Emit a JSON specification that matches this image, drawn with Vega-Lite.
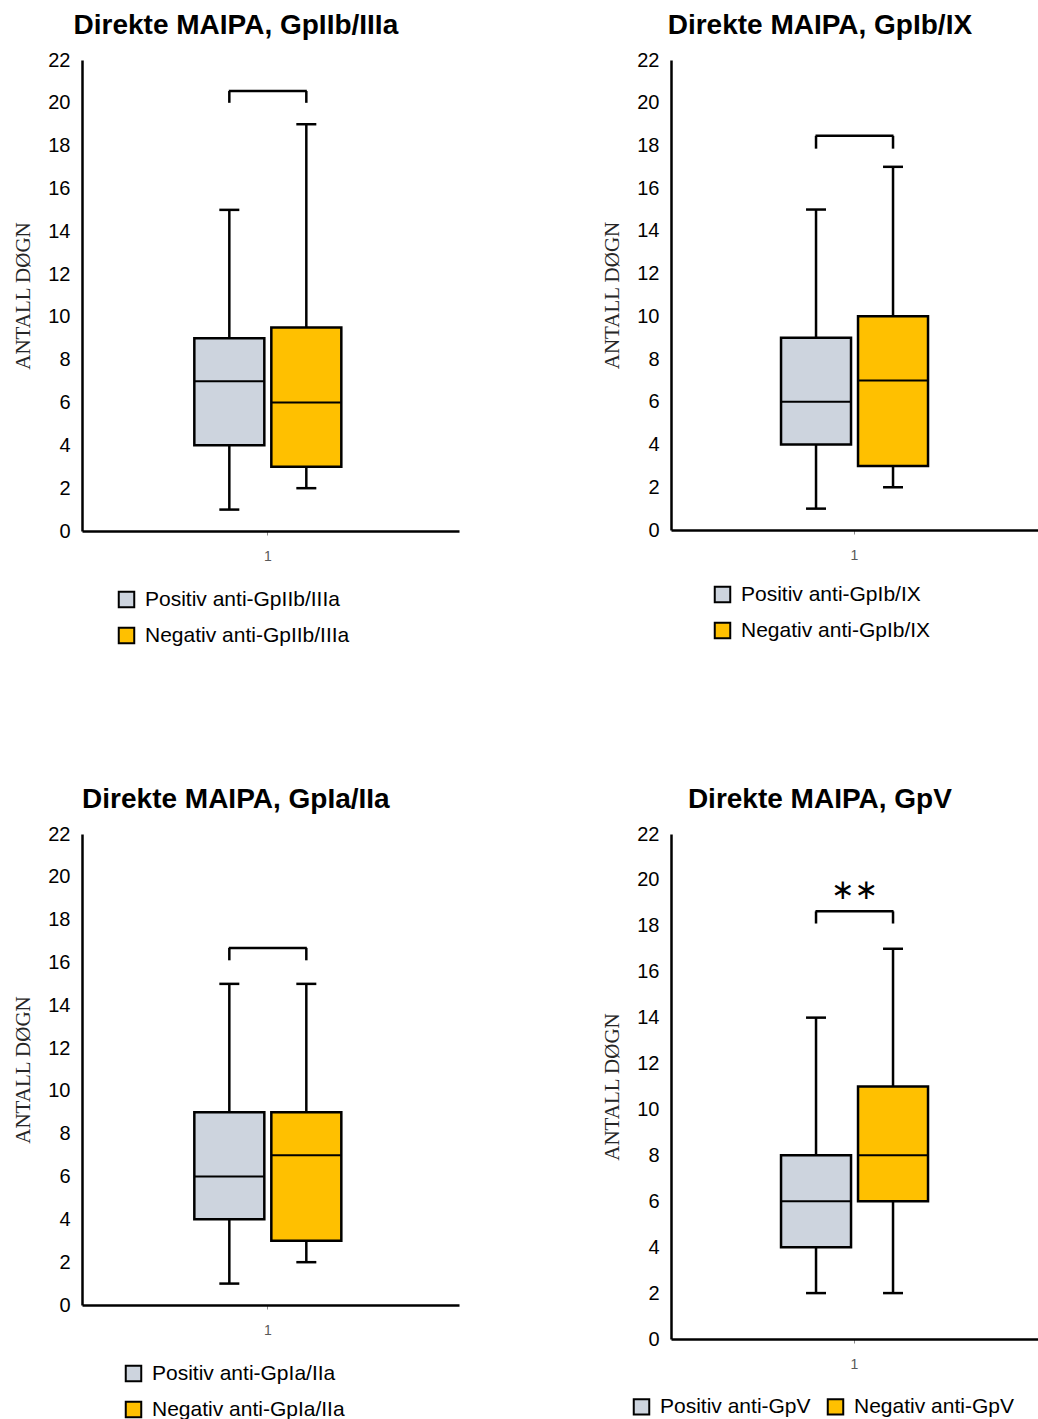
{
  "$schema": "https://vega.github.io/schema/vega-lite/v6.json",
  "background": "white",
  "padding": {"left": 12, "top": 12, "right": 0, "bottom": 0},
  "datasets": {
    "bokser": [
      {"panel": "GpIIb/IIIa", "kategori": "1", "fortegn": "Positiv", "etikett": "Positiv anti-GpIIb/IIIa", "min": 1, "q1": 4, "median": 7, "q3": 9, "max": 15},
      {"panel": "GpIIb/IIIa", "kategori": "1", "fortegn": "Negativ", "etikett": "Negativ anti-GpIIb/IIIa", "min": 2, "q1": 3, "median": 6, "q3": 9.5, "max": 19},
      {"panel": "GpIb/IX", "kategori": "1", "fortegn": "Positiv", "etikett": "Positiv anti-GpIb/IX", "min": 1, "q1": 4, "median": 6, "q3": 9, "max": 15},
      {"panel": "GpIb/IX", "kategori": "1", "fortegn": "Negativ", "etikett": "Negativ anti-GpIb/IX", "min": 2, "q1": 3, "median": 7, "q3": 10, "max": 17},
      {"panel": "GpIa/IIa", "kategori": "1", "fortegn": "Positiv", "etikett": "Positiv anti-GpIa/IIa", "min": 1, "q1": 4, "median": 6, "q3": 9, "max": 15},
      {"panel": "GpIa/IIa", "kategori": "1", "fortegn": "Negativ", "etikett": "Negativ anti-GpIa/IIa", "min": 2, "q1": 3, "median": 7, "q3": 9, "max": 15},
      {"panel": "GpV", "kategori": "1", "fortegn": "Positiv", "etikett": "Positiv anti-GpV", "min": 2, "q1": 4, "median": 6, "q3": 8, "max": 14},
      {"panel": "GpV", "kategori": "1", "fortegn": "Negativ", "etikett": "Negativ anti-GpV", "min": 2, "q1": 6, "median": 8, "q3": 11, "max": 17}
    ],
    "klammer": [
      {"panel": "GpIIb/IIIa", "kategori": "1", "fortegn": "Positiv", "lav": 20.0, "hoy": 20.55},
      {"panel": "GpIIb/IIIa", "kategori": "1", "fortegn": "Negativ", "lav": 20.0, "hoy": 20.55},
      {"panel": "GpIb/IX", "kategori": "1", "fortegn": "Positiv", "lav": 17.85, "hoy": 18.45},
      {"panel": "GpIb/IX", "kategori": "1", "fortegn": "Negativ", "lav": 17.85, "hoy": 18.45},
      {"panel": "GpIa/IIa", "kategori": "1", "fortegn": "Positiv", "lav": 16.1, "hoy": 16.68},
      {"panel": "GpIa/IIa", "kategori": "1", "fortegn": "Negativ", "lav": 16.1, "hoy": 16.68},
      {"panel": "GpV", "kategori": "1", "fortegn": "Positiv", "lav": 18.1, "hoy": 18.63},
      {"panel": "GpV", "kategori": "1", "fortegn": "Negativ", "lav": 18.1, "hoy": 18.63}
    ],
    "stjerner": [
      {"panel": "GpV", "kategori": "1", "y": 19.5, "tekst": "∗∗"}
    ]
  },
  "config": {
    "view": {"stroke": null},
    "font": "Liberation Sans",
    "title": {"fontSize": 28, "font": "Liberation Sans", "fontWeight": "bold", "color": "black", "frame": "bounds", "anchor": "middle", "offset": 10},
    "tick": {"opacity": 1},
    "axisY": {"domainColor": "black", "domainWidth": 2.5, "ticks": false, "grid": false, "labelFontSize": 20, "labelColor": "black", "labelPadding": 12, "titleFont": "Liberation Serif", "titleFontSize": 21, "titleFontWeight": "normal", "titleColor": "#262626", "titlePadding": 14},
    "axisX": {"domainColor": "black", "domainWidth": 2.5, "tickColor": "#8c8c8c", "tickSize": 4, "tickWidth": 1, "labelFontSize": 14, "labelColor": "#595959", "labelPadding": 14, "labelAngle": 0, "grid": false},
    "legend": {"labelFontSize": 21, "labelColor": "black", "labelFont": "Liberation Sans", "labelLimit": 0, "symbolType": "square", "symbolSize": 240, "symbolStrokeColor": "black", "symbolStrokeWidth": 2, "rowPadding": 11, "labelOffset": 8, "padding": 0, "columnPadding": 12}
  },
  "spacing": 138,
  "resolve": {"scale": {"color": "independent"}, "legend": {"color": "independent"}},
  "vconcat": [
    {
      "spacing": 142,
      "resolve": {"scale": {"color": "independent"}, "legend": {"color": "independent"}},
      "hconcat": [
        {
          "width": 377, "height": 471,
          "title": "Direkte MAIPA, GpIIb/IIIa",
          "layer": [
            {
              "data": {"name": "bokser"},
              "transform": [{"filter": "datum.panel == 'GpIIb/IIIa'"}],
              "encoding": {
                "x": {"field": "kategori", "type": "nominal", "title": null, "scale": {"paddingInner": 0, "paddingOuter": 0.724, "align": 0.488}},
                "xOffset": {"field": "fortegn", "type": "nominal", "sort": ["Positiv", "Negativ"], "scale": {"paddingInner": 0.0909, "paddingOuter": 0.0455}}
              },
              "layer": [
                {"mark": {"type": "rule", "color": "black", "strokeWidth": 2.5}, "encoding": {"y": {"field": "min", "type": "quantitative", "title": "ANTALL DØGN", "scale": {"domain": [0, 22], "nice": false}, "axis": {"values": [0, 2, 4, 6, 8, 10, 12, 14, 16, 18, 20, 22]}}, "y2": {"field": "max"}}},
                {"mark": {"type": "bar", "stroke": "black", "strokeWidth": 2.5}, "encoding": {"y": {"field": "q1", "type": "quantitative", "title": "ANTALL DØGN"}, "y2": {"field": "q3"}, "color": {"field": "etikett", "type": "nominal", "scale": {"domain": ["Positiv anti-GpIIb/IIIa", "Negativ anti-GpIIb/IIIa"], "range": ["#cdd4de", "#ffc000"]}, "legend": {"title": null, "orient": "none", "legendX": 34, "legendY": 529, "direction": "vertical"}}}},
                {"mark": {"type": "tick", "color": "black", "thickness": 2.5, "size": 20}, "encoding": {"y": {"field": "min", "type": "quantitative", "title": "ANTALL DØGN"}}},
                {"mark": {"type": "tick", "color": "black", "thickness": 2.5, "size": 20}, "encoding": {"y": {"field": "max", "type": "quantitative", "title": "ANTALL DØGN"}}},
                {"mark": {"type": "tick", "color": "black", "thickness": 2, "size": 70}, "encoding": {"y": {"field": "median", "type": "quantitative", "title": "ANTALL DØGN"}}}
              ]
            },
            {
              "data": {"name": "klammer"},
              "transform": [{"filter": "datum.panel == 'GpIIb/IIIa'"}],
              "layer": [
                {"mark": {"type": "rule", "color": "black", "strokeWidth": 2.5}, "encoding": {"x": {"field": "kategori", "type": "nominal", "title": null}, "xOffset": {"field": "fortegn", "type": "nominal", "sort": ["Positiv", "Negativ"]}, "y": {"field": "lav", "type": "quantitative", "title": "ANTALL DØGN"}, "y2": {"field": "hoy"}}},
                {"transform": [{"filter": "datum.fortegn == 'Positiv'"}], "mark": {"type": "tick", "color": "black", "thickness": 2.5, "size": 78}, "encoding": {"x": {"field": "kategori", "type": "nominal", "title": null}, "y": {"field": "hoy", "type": "quantitative", "title": "ANTALL DØGN"}}}
              ]
            }
          ]
        },
        {
          "width": 367, "height": 470,
          "title": "Direkte MAIPA, GpIb/IX",
          "layer": [
            {
              "data": {"name": "bokser"},
              "transform": [{"filter": "datum.panel == 'GpIb/IX'"}],
              "encoding": {
                "x": {"field": "kategori", "type": "nominal", "title": null, "scale": {"paddingInner": 0, "paddingOuter": 0.692}},
                "xOffset": {"field": "fortegn", "type": "nominal", "sort": ["Positiv", "Negativ"], "scale": {"paddingInner": 0.0909, "paddingOuter": 0.0455}}
              },
              "layer": [
                {"mark": {"type": "rule", "color": "black", "strokeWidth": 2.5}, "encoding": {"y": {"field": "min", "type": "quantitative", "title": "ANTALL DØGN", "scale": {"domain": [0, 22], "nice": false}, "axis": {"values": [0, 2, 4, 6, 8, 10, 12, 14, 16, 18, 20, 22]}}, "y2": {"field": "max"}}},
                {"mark": {"type": "bar", "stroke": "black", "strokeWidth": 2.5}, "encoding": {"y": {"field": "q1", "type": "quantitative", "title": "ANTALL DØGN"}, "y2": {"field": "q3"}, "color": {"field": "etikett", "type": "nominal", "scale": {"domain": ["Positiv anti-GpIb/IX", "Negativ anti-GpIb/IX"], "range": ["#cdd4de", "#ffc000"]}, "legend": {"title": null, "orient": "none", "legendX": 41, "legendY": 524, "direction": "vertical"}}}},
                {"mark": {"type": "tick", "color": "black", "thickness": 2.5, "size": 20}, "encoding": {"y": {"field": "min", "type": "quantitative", "title": "ANTALL DØGN"}}},
                {"mark": {"type": "tick", "color": "black", "thickness": 2.5, "size": 20}, "encoding": {"y": {"field": "max", "type": "quantitative", "title": "ANTALL DØGN"}}},
                {"mark": {"type": "tick", "color": "black", "thickness": 2, "size": 70}, "encoding": {"y": {"field": "median", "type": "quantitative", "title": "ANTALL DØGN"}}}
              ]
            },
            {
              "data": {"name": "klammer"},
              "transform": [{"filter": "datum.panel == 'GpIb/IX'"}],
              "layer": [
                {"mark": {"type": "rule", "color": "black", "strokeWidth": 2.5}, "encoding": {"x": {"field": "kategori", "type": "nominal", "title": null}, "xOffset": {"field": "fortegn", "type": "nominal", "sort": ["Positiv", "Negativ"]}, "y": {"field": "lav", "type": "quantitative", "title": "ANTALL DØGN"}, "y2": {"field": "hoy"}}},
                {"transform": [{"filter": "datum.fortegn == 'Positiv'"}], "mark": {"type": "tick", "color": "black", "thickness": 2.5, "size": 78}, "encoding": {"x": {"field": "kategori", "type": "nominal", "title": null}, "y": {"field": "hoy", "type": "quantitative", "title": "ANTALL DØGN"}}}
              ]
            }
          ]
        }
      ]
    },
    {
      "spacing": 142,
      "resolve": {"scale": {"color": "independent"}, "legend": {"color": "independent"}},
      "hconcat": [
        {
          "width": 377, "height": 471,
          "title": "Direkte MAIPA, GpIa/IIa",
          "layer": [
            {
              "data": {"name": "bokser"},
              "transform": [{"filter": "datum.panel == 'GpIa/IIa'"}],
              "encoding": {
                "x": {"field": "kategori", "type": "nominal", "title": null, "scale": {"paddingInner": 0, "paddingOuter": 0.724, "align": 0.488}},
                "xOffset": {"field": "fortegn", "type": "nominal", "sort": ["Positiv", "Negativ"], "scale": {"paddingInner": 0.0909, "paddingOuter": 0.0455}}
              },
              "layer": [
                {"mark": {"type": "rule", "color": "black", "strokeWidth": 2.5}, "encoding": {"y": {"field": "min", "type": "quantitative", "title": "ANTALL DØGN", "scale": {"domain": [0, 22], "nice": false}, "axis": {"values": [0, 2, 4, 6, 8, 10, 12, 14, 16, 18, 20, 22]}}, "y2": {"field": "max"}}},
                {"mark": {"type": "bar", "stroke": "black", "strokeWidth": 2.5}, "encoding": {"y": {"field": "q1", "type": "quantitative", "title": "ANTALL DØGN"}, "y2": {"field": "q3"}, "color": {"field": "etikett", "type": "nominal", "scale": {"domain": ["Positiv anti-GpIa/IIa", "Negativ anti-GpIa/IIa"], "range": ["#cdd4de", "#ffc000"]}, "legend": {"title": null, "orient": "none", "legendX": 41, "legendY": 529, "direction": "vertical"}}}},
                {"mark": {"type": "tick", "color": "black", "thickness": 2.5, "size": 20}, "encoding": {"y": {"field": "min", "type": "quantitative", "title": "ANTALL DØGN"}}},
                {"mark": {"type": "tick", "color": "black", "thickness": 2.5, "size": 20}, "encoding": {"y": {"field": "max", "type": "quantitative", "title": "ANTALL DØGN"}}},
                {"mark": {"type": "tick", "color": "black", "thickness": 2, "size": 70}, "encoding": {"y": {"field": "median", "type": "quantitative", "title": "ANTALL DØGN"}}}
              ]
            },
            {
              "data": {"name": "klammer"},
              "transform": [{"filter": "datum.panel == 'GpIa/IIa'"}],
              "layer": [
                {"mark": {"type": "rule", "color": "black", "strokeWidth": 2.5}, "encoding": {"x": {"field": "kategori", "type": "nominal", "title": null}, "xOffset": {"field": "fortegn", "type": "nominal", "sort": ["Positiv", "Negativ"]}, "y": {"field": "lav", "type": "quantitative", "title": "ANTALL DØGN"}, "y2": {"field": "hoy"}}},
                {"transform": [{"filter": "datum.fortegn == 'Positiv'"}], "mark": {"type": "tick", "color": "black", "thickness": 2.5, "size": 78}, "encoding": {"x": {"field": "kategori", "type": "nominal", "title": null}, "y": {"field": "hoy", "type": "quantitative", "title": "ANTALL DØGN"}}}
              ]
            }
          ]
        },
        {
          "width": 367, "height": 505,
          "title": "Direkte MAIPA, GpV",
          "layer": [
            {
              "data": {"name": "bokser"},
              "transform": [{"filter": "datum.panel == 'GpV'"}],
              "encoding": {
                "x": {"field": "kategori", "type": "nominal", "title": null, "scale": {"paddingInner": 0, "paddingOuter": 0.692}},
                "xOffset": {"field": "fortegn", "type": "nominal", "sort": ["Positiv", "Negativ"], "scale": {"paddingInner": 0.0909, "paddingOuter": 0.0455}}
              },
              "layer": [
                {"mark": {"type": "rule", "color": "black", "strokeWidth": 2.5}, "encoding": {"y": {"field": "min", "type": "quantitative", "title": "ANTALL DØGN", "scale": {"domain": [0, 22], "nice": false}, "axis": {"values": [0, 2, 4, 6, 8, 10, 12, 14, 16, 18, 20, 22]}}, "y2": {"field": "max"}}},
                {"mark": {"type": "bar", "stroke": "black", "strokeWidth": 2.5}, "encoding": {"y": {"field": "q1", "type": "quantitative", "title": "ANTALL DØGN"}, "y2": {"field": "q3"}, "color": {"field": "etikett", "type": "nominal", "scale": {"domain": ["Positiv anti-GpV", "Negativ anti-GpV"], "range": ["#cdd4de", "#ffc000"]}, "legend": {"title": null, "orient": "none", "legendX": -40, "legendY": 562, "direction": "horizontal"}}}},
                {"mark": {"type": "tick", "color": "black", "thickness": 2.5, "size": 20}, "encoding": {"y": {"field": "min", "type": "quantitative", "title": "ANTALL DØGN"}}},
                {"mark": {"type": "tick", "color": "black", "thickness": 2.5, "size": 20}, "encoding": {"y": {"field": "max", "type": "quantitative", "title": "ANTALL DØGN"}}},
                {"mark": {"type": "tick", "color": "black", "thickness": 2, "size": 70}, "encoding": {"y": {"field": "median", "type": "quantitative", "title": "ANTALL DØGN"}}}
              ]
            },
            {
              "data": {"name": "klammer"},
              "transform": [{"filter": "datum.panel == 'GpV'"}],
              "layer": [
                {"mark": {"type": "rule", "color": "black", "strokeWidth": 2.5}, "encoding": {"x": {"field": "kategori", "type": "nominal", "title": null}, "xOffset": {"field": "fortegn", "type": "nominal", "sort": ["Positiv", "Negativ"]}, "y": {"field": "lav", "type": "quantitative", "title": "ANTALL DØGN"}, "y2": {"field": "hoy"}}},
                {"transform": [{"filter": "datum.fortegn == 'Positiv'"}], "mark": {"type": "tick", "color": "black", "thickness": 2.5, "size": 78}, "encoding": {"x": {"field": "kategori", "type": "nominal", "title": null}, "y": {"field": "hoy", "type": "quantitative", "title": "ANTALL DØGN"}}}
              ]
            },
            {
              "data": {"name": "stjerner"},
              "transform": [{"filter": "datum.panel == 'GpV'"}],
              "mark": {"type": "text", "fontSize": 28, "baseline": "middle", "font": "DejaVu Sans", "color": "black"},
              "encoding": {"x": {"field": "kategori", "type": "nominal", "title": null}, "y": {"field": "y", "type": "quantitative", "title": "ANTALL DØGN"}, "text": {"field": "tekst"}}
            }
          ]
        }
      ]
    }
  ]
}
